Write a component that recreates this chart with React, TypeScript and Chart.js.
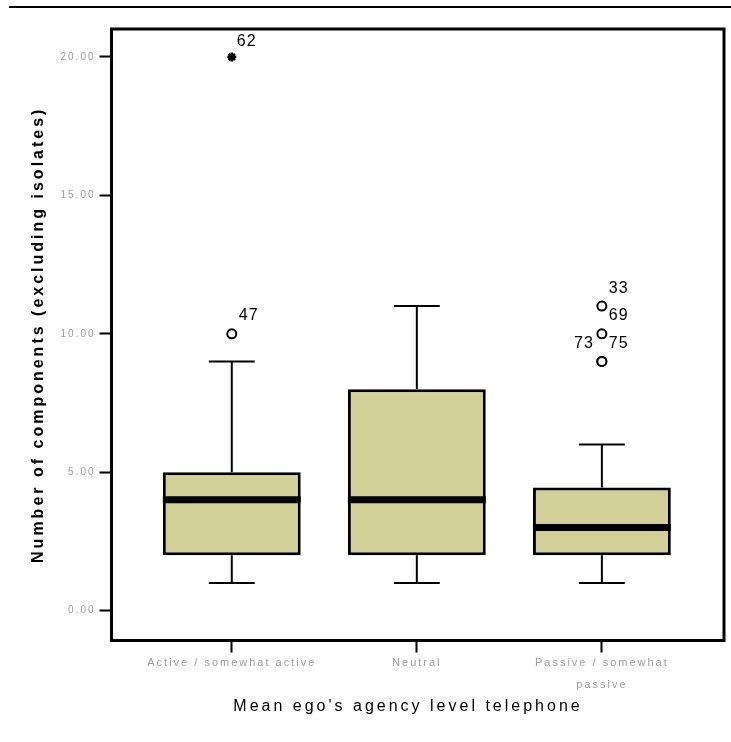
import React, { useEffect, useRef } from "react";
import { Chart, registerables } from "chart.js";

Chart.register(...registerables);

// ---- data ----
const categories = ["Active / somewhat active", "Neutral", "Passive / somewhat passive"];
const categoryTickLines = [["Active / somewhat active"], ["Neutral"], ["Passive / somewhat", "passive"]];
const whiskerLow = [1, 1, 1];
const q1 = [2, 2, 2];
const median = [4, 4, 3];
const q3 = [5, 8, 4.45];
const whiskerHigh = [9, 11, 6];
const outlierCategory = [1, 3, 3, 3, 3];
const outlierValues = [10, 11, 10, 9, 9];
const outlierIds = ["47", "33", "69", "73", "75"];
const extremeCategory = [1];
const extremeValues = [20];
const extremeIds = ["62"];
const yTicks = [0, 5, 10, 15, 20];
const yTitle = "Number of components (excluding isolates)";
const xTitle = "Mean ego's agency level telephone";

const BOX_FILL = "rgb(211,207,153)";
const TICK_GREY = "#9c9c9c";
const FONT = '"Liberation Sans", Arial, sans-serif';

const boxExtras = {
  id: "boxExtras",
  beforeDraw(chart: any) {
    chart.ctx.letterSpacing = "2px";
  },
  beforeDatasetsDraw(chart: any) {
    const { ctx } = chart;
    const x = chart.scales.x;
    const y = chart.scales.y;
    ctx.save();
    ctx.strokeStyle = "#000";
    ctx.lineWidth = 2;
    categories.forEach((_, i) => {
      const cx = x.getPixelForValue(i + 1);
      const half = x.getPixelForValue(i + 1 + 0.124) - cx;
      const seg = (x1: number, y1: number, x2: number, y2: number) => {
        ctx.beginPath();
        ctx.moveTo(x1, y1);
        ctx.lineTo(x2, y2);
        ctx.stroke();
      };
      seg(cx, y.getPixelForValue(q1[i]), cx, y.getPixelForValue(whiskerLow[i]));
      seg(cx - half, y.getPixelForValue(whiskerLow[i]), cx + half, y.getPixelForValue(whiskerLow[i]));
      seg(cx, y.getPixelForValue(q3[i]), cx, y.getPixelForValue(whiskerHigh[i]));
      seg(cx - half, y.getPixelForValue(whiskerHigh[i]), cx + half, y.getPixelForValue(whiskerHigh[i]));
    });
    ctx.restore();
  },
  afterDatasetsDraw(chart: any) {
    const { ctx, chartArea } = chart;
    const y = chart.scales.y;
    ctx.save();
    // medians across the boxes
    const barMeta = chart.getDatasetMeta(0);
    ctx.strokeStyle = "#000";
    ctx.lineWidth = 7;
    barMeta.data.forEach((bar: any, i: number) => {
      const py = y.getPixelForValue(median[i]);
      ctx.beginPath();
      ctx.moveTo(bar.x - bar.width / 2, py);
      ctx.lineTo(bar.x + bar.width / 2, py);
      ctx.stroke();
    });
    // frame
    ctx.lineWidth = 3;
    ctx.strokeRect(chartArea.left, chartArea.top, chartArea.right - chartArea.left, chartArea.bottom - chartArea.top);
    // case labels
    ctx.fillStyle = "#000";
    ctx.font = "16px " + FONT;
    ctx.letterSpacing = "1px";
    ctx.textBaseline = "middle";
    const outMeta = chart.getDatasetMeta(1);
    outMeta.data.forEach((pt: any, i: number) => {
      const left = outlierIds.some(
        (_, j) => j > i && outlierCategory[j] === outlierCategory[i] && outlierValues[j] === outlierValues[i]
      );
      ctx.textAlign = left ? "right" : "left";
      ctx.fillText(outlierIds[i], left ? pt.x - 8 : pt.x + 7, pt.y - 18);
    });
    const extMeta = chart.getDatasetMeta(2);
    extMeta.data.forEach((pt: any, i: number) => {
      ctx.textAlign = "left";
      ctx.fillText(extremeIds[i], pt.x + 5, pt.y - 15);
    });
    ctx.restore();
  },
  afterDraw(chart: any) {
    const { ctx, chartArea } = chart;
    ctx.save();
    ctx.fillStyle = "#000";
    ctx.textAlign = "center";
    ctx.textBaseline = "middle";
    // y title
    ctx.letterSpacing = "3px";
    ctx.font = "bold 16px " + FONT;
    ctx.save();
    ctx.translate(39, (chartArea.top + chartArea.bottom) / 2);
    ctx.rotate(-Math.PI / 2);
    ctx.fillText(yTitle, 0, 0);
    ctx.restore();
    // x title
    ctx.letterSpacing = "3px";
    ctx.font = "16px " + FONT;
    ctx.fillText(xTitle, 408, 707);
    // top rule
    ctx.strokeStyle = "#000";
    ctx.lineWidth = 2;
    ctx.beginPath();
    ctx.moveTo(9, 7);
    ctx.lineTo(731, 7);
    ctx.stroke();
    ctx.restore();
  },
};

export default function App() {
  const ref = useRef<HTMLCanvasElement>(null);
  useEffect(() => {
    const chart = new Chart(ref.current as HTMLCanvasElement, {
      type: "bar",
      data: {
        datasets: [
          {
            type: "bar",
            data: categories.map((_, i) => ({ x: i + 1, y: [q1[i], q3[i]] })) as any,
            backgroundColor: BOX_FILL,
            borderColor: "#000",
            borderWidth: 3,
            borderSkipped: false,
            barPercentage: 0.745,
            categoryPercentage: 1,
          },
          {
            type: "scatter",
            data: outlierValues.map((v, i) => ({ x: outlierCategory[i], y: v })),
            pointStyle: "circle",
            pointRadius: 4.5,
            pointBorderWidth: 2,
            pointBackgroundColor: "#fff",
            pointBorderColor: "#000",
          } as any,
          {
            type: "scatter",
            data: extremeValues.map((v, i) => ({ x: extremeCategory[i], y: v })),
            pointStyle: "star",
            pointRadius: 4.5,
            pointBorderWidth: 2.5,
            pointBackgroundColor: "#000",
            pointBorderColor: "#000",
          } as any,
        ],
      },
      options: {
        responsive: false,
        maintainAspectRatio: false,
        devicePixelRatio: 1,
        animation: false,
        events: [],
        layout: { padding: { top: 29, right: 6, left: 0, bottom: 0 } },
        plugins: { legend: { display: false }, tooltip: { enabled: false }, title: { display: false } },
        scales: {
          x: {
            type: "linear",
            position: "bottom",
            min: 0.35,
            max: 3.66,
            offset: false,
            afterFit: (s: any) => {
              s.height = 101.5;
            },
            afterBuildTicks: (s: any) => {
              s.ticks = categories.map((_, i) => ({ value: i + 1 }));
            },
            grid: {
              drawOnChartArea: false,
              drawTicks: true,
              tickLength: 12,
              tickWidth: 2,
              tickColor: "#000",
              offset: false,
            },
            border: { display: true, color: "#000", width: 3 },
            ticks: {
              autoSkip: false,
              maxRotation: 0,
              minRotation: 0,
              padding: 0,
              color: TICK_GREY,
              font: { family: FONT, size: 11, lineHeight: 1.95 },
              callback: (v: any) => categoryTickLines[Math.round(Number(v)) - 1] ?? "",
            },
          },
          y: {
            type: "linear",
            position: "left",
            min: -1.08,
            max: 21.01,
            afterFit: (s: any) => {
              s.width = 111.5;
            },
            afterBuildTicks: (s: any) => {
              s.ticks = yTicks.map((v) => ({ value: v }));
            },
            grid: {
              drawOnChartArea: false,
              drawTicks: true,
              tickLength: 12,
              tickWidth: 2,
              tickColor: "#000",
            },
            border: { display: true, color: "#000", width: 3 },
            ticks: {
              padding: 4,
              color: TICK_GREY,
              font: { family: FONT, size: 10 },
              callback: (v: any) => Number(v).toFixed(2),
            },
          },
        },
      },
      plugins: [boxExtras],
    } as any);
    return () => chart.destroy();
  }, []);
  return (
    <div style={{ position: "fixed", left: 0, top: 0, width: 731, height: 742, background: "#fff" }}>
      <canvas ref={ref} width={731} height={742} style={{ display: "block" }} />
    </div>
  );
}
